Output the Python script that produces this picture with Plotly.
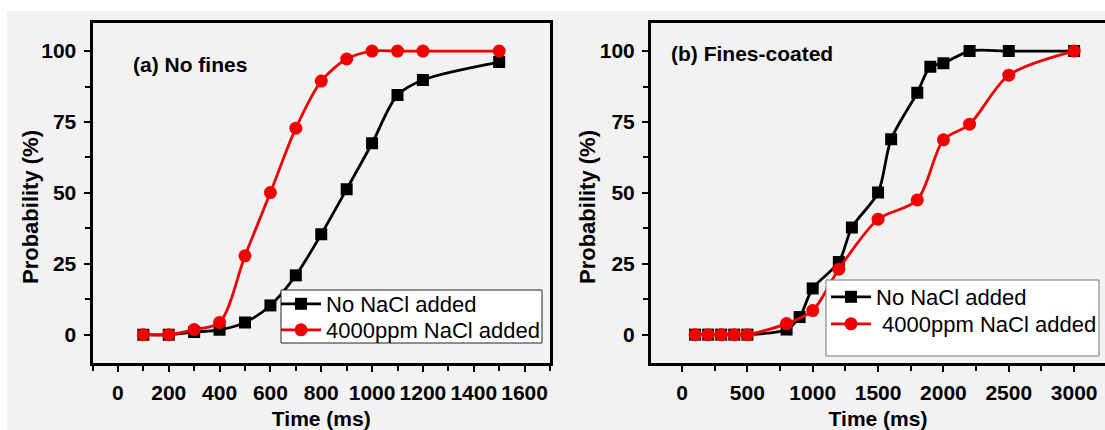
import plotly.graph_objects as go

# ---- data ----
t_a = [100, 200, 300, 400, 500, 600, 700, 800, 900, 1000, 1100, 1200, 1500]
a_no_nacl = [0, 0, 0.9, 1.7, 4.3, 10.3, 20.9, 35.4, 51.3, 67.5, 84.5, 89.8, 96.1]
a_nacl = [0, 0, 1.8, 4.3, 27.8, 50.1, 72.8, 89.4, 97.2, 100, 100, 100, 100]

t_b_no = [100, 200, 300, 400, 500, 800, 900, 1000, 1200, 1300, 1500, 1600, 1800, 1900, 2000, 2200, 2500, 3000]
b_no_nacl = [0, 0, 0, 0, 0, 1.8, 6.2, 16.3, 25.6, 37.8, 50.1, 68.9, 85.3, 94.5, 95.7, 100, 100, 100]
t_b_salt = [100, 200, 300, 400, 500, 800, 1000, 1200, 1500, 1800, 2000, 2200, 2500, 3000]
b_nacl = [0, 0, 0, 0, 0, 3.9, 8.5, 23.1, 40.7, 47.5, 68.7, 74.2, 91.5, 100]

x_ticks_a = [0, 200, 400, 600, 800, 1000, 1200, 1400, 1600]
x_ticks_b = [0, 500, 1000, 1500, 2000, 2500, 3000]
y_ticks = [0, 25, 50, 75, 100]

name_no = "No NaCl added"
name_salt = "4000ppm NaCl added"

W, H = 1105, 430
BLACK = "#000000"
RED = "#f00000"
BG = "#f2f2f2"
FONT = "Arial, Liberation Sans, sans-serif"

def px_x(p):
    return p / W

def px_y(p):
    return 1 - p / H

fig = go.Figure()

line_kw = dict(shape="spline", smoothing=0.85, width=2.8)

fig.add_trace(go.Scatter(x=t_a, y=a_no_nacl, mode="lines+markers", name=name_no,
                         line=dict(color=BLACK, **line_kw),
                         marker=dict(symbol="square", size=12, color=BLACK),
                         xaxis="x", yaxis="y", legend="legend"))
fig.add_trace(go.Scatter(x=t_a, y=a_nacl, mode="lines+markers", name=name_salt,
                         line=dict(color=RED, **line_kw),
                         marker=dict(symbol="circle", size=13, color=RED),
                         xaxis="x", yaxis="y", legend="legend2"))
fig.add_trace(go.Scatter(x=t_b_no, y=b_no_nacl, mode="lines+markers", name=name_no,
                         line=dict(color=BLACK, **line_kw),
                         marker=dict(symbol="square", size=12, color=BLACK),
                         xaxis="x2", yaxis="y2", legend="legend3"))
fig.add_trace(go.Scatter(x=t_b_salt, y=b_nacl, mode="lines+markers", name=" " + name_salt,
                         line=dict(color=RED, **line_kw),
                         marker=dict(symbol="circle", size=13, color=RED),
                         xaxis="x2", yaxis="y2", legend="legend4"))

tickfont = dict(family=FONT, size=21, color=BLACK, weight="bold")
titlefont = dict(family=FONT, size=21, color=BLACK, weight="bold")

y_dom = [px_y(363), px_y(22.7)]

def xaxis(domain, rng, ticks, minor, anchor):
    return dict(domain=domain, range=rng, anchor=anchor,
                tickmode="array", tickvals=ticks, ticktext=[str(v) for v in ticks],
                ticks="outside", ticklen=6, tickwidth=2, tickcolor=BLACK,
                minor=dict(dtick=minor, tick0=0, ticks="outside", ticklen=5, tickwidth=2, tickcolor=BLACK),
                showline=True, linewidth=3, linecolor=BLACK, mirror=True,
                showgrid=False, zeroline=False, tickfont=tickfont,
                ticklabelstandoff=3,
                title=dict(text="Time (ms)", font=titlefont, standoff=14),
                automargin=False)

def yaxis(anchor, mirror):
    return dict(domain=y_dom, range=[-10, 110], anchor=anchor,
                tickmode="array", tickvals=y_ticks, ticktext=[str(v) for v in y_ticks],
                ticks="outside", ticklen=6, tickwidth=2, tickcolor=BLACK,
                minor=dict(dtick=12.5, tick0=0, ticks="outside", ticklen=5, tickwidth=2, tickcolor=BLACK),
                showline=True, linewidth=3, linecolor=BLACK, mirror=mirror,
                showgrid=False, zeroline=False, tickfont=tickfont,
                ticklabelstandoff=3,
                automargin=False)

shapes = [
    dict(type="rect", xref="paper", yref="paper", x0=0, x1=1, y0=px_y(11), y1=1,
         fillcolor="white", line=dict(width=0), layer="below"),
    dict(type="rect", xref="paper", yref="paper", x0=0, x1=px_x(7), y0=0, y1=1,
         fillcolor="white", line=dict(width=0), layer="below"),
    dict(type="rect", xref="paper", yref="paper", x0=px_x(281), x1=px_x(542), y0=px_y(343), y1=px_y(290),
         fillcolor="white", line=dict(color="#222222", width=1), layer="above"),
    dict(type="rect", xref="paper", yref="paper", x0=px_x(826), x1=px_x(1099), y0=px_y(356), y1=px_y(280),
         fillcolor="white", line=dict(color="#777777", width=1), layer="above"),
]

legfont = dict(family=FONT, size=22, color=BLACK)

def leg(xc, yc):
    return dict(x=px_x(xc), y=px_y(yc), xanchor="left", yanchor="middle",
                bgcolor="rgba(0,0,0,0)", borderwidth=0, font=legfont,
                itemwidth=40, tracegroupgap=0)

ann_font = dict(family=FONT, size=21, color=BLACK, weight="bold")
ytitle_font = dict(family=FONT, size=22, color=BLACK, weight="bold")

fig.update_layout(
    width=W, height=H,
    margin=dict(l=0, r=0, t=0, b=0),
    paper_bgcolor=BG, plot_bgcolor=BG,
    xaxis=xaxis([px_x(92.5), px_x(550)], [-100, 1700], x_ticks_a, 100, "y"),
    yaxis=yaxis("x", True),
    xaxis2=xaxis([px_x(651), 1.0], [-237, 3236], x_ticks_b, 250, "y2"),
    yaxis2=yaxis("x2", False),
    showlegend=True,
    legend=leg(276, 304),
    legend2=leg(276, 330),
    legend3=leg(826, 297),
    legend4=leg(826, 324),
    shapes=shapes,
    annotations=[
        dict(text="(a) No fines", x=px_x(190), y=px_y(64), xref="paper", yref="paper",
             xanchor="center", yanchor="middle", showarrow=False, font=ann_font),
        dict(text="(b) Fines-coated", x=px_x(752), y=px_y(54), xref="paper", yref="paper",
             xanchor="center", yanchor="middle", showarrow=False, font=ann_font),
        dict(text="Probability (%)", x=px_x(30), y=px_y(207), xref="paper", yref="paper",
             xanchor="center", yanchor="middle", textangle=-90, showarrow=False, font=ytitle_font),
        dict(text="Probability (%)", x=px_x(587), y=px_y(207), xref="paper", yref="paper",
             xanchor="center", yanchor="middle", textangle=-90, showarrow=False, font=ytitle_font),
    ],
)

fig.write_html("out.html")
